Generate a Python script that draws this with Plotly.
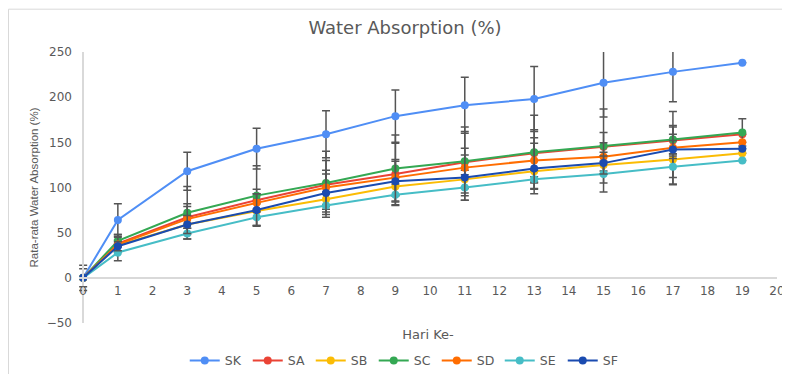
import plotly.graph_objects as go

# ---- data ----
days = [0, 1, 3, 5, 7, 9, 11, 13, 15, 17, 19]

SK = [0, 64, 118, 143, 159, 179, 191, 198, 216, 228, 238]
SA = [0, 38, 67, 86, 103, 115, 128, 138, 145, 152, 159]
SB = [0, 36, 59, 74, 87, 101, 109, 118, 125, 131, 138]
SC = [0, 41, 72, 91, 105, 121, 129, 139, 146, 153, 161]
SD = [0, 37, 65, 83, 100, 111, 122, 130, 134, 144, 150]
SE = [0, 28, 49, 67, 80, 92, 100, 109, 115, 123, 130]
SF = [0, 35, 59, 75, 94, 107, 111, 121, 127, 142, 143]

SK_err = [14, 18, 21, 22.5, 26, 29, 31, 36, 38, 33, None]
SA_err = [None, 10, 12, 12, 27, 34, 34, 26, 16, 15, None]
SB_err = [None, 6, 10, 8, 8, 10, 10, 12, 10, 28, None]
SC_err = [10, 7, 29, 33, 35, 37, 38, 41, 41, 15.5, 15]
SD_err = [None, 8, 17, 10, 19, 20, 21.5, 25, 15.6, 40, None]
SE_err = [None, 9, 6, 9, 13, 12, 14, 10, 20, 12, None]
SF_err = [None, 5, 10, 18, 21, 22, 25, 28, 12, 10, None]

series_names = ["SK", "SA", "SB", "SC", "SD", "SE", "SF"]
series_vals = [SK, SA, SB, SC, SD, SE, SF]
series_errs = [SK_err, SA_err, SB_err, SC_err, SD_err, SE_err, SF_err]
series_colors = ["#4f8ef5", "#ea4335", "#fbbc04", "#34a853", "#ff6d01", "#46bdc6", "#1a4bb0"]

y_ticks = [-50, 0, 50, 100, 150, 200, 250]
x_ticks = list(range(0, 21))

TXT = "#595959"
FONT = "DejaVu Sans"

# layout geometry (figure px; the page adds an 8px body margin)
L, R, T, B = 71, 21, 44, 59
PW, PH = 790 - L - R, 374 - T - B

fig = go.Figure()
for name, vals, errs, color in zip(series_names, series_vals, series_errs, series_colors):
    fig.add_trace(go.Scatter(
        x=days, y=vals, name=name, mode="lines+markers",
        line=dict(color=color, width=2),
        marker=dict(size=8, color=color, line=dict(width=0)),
        error_y=dict(type="data", array=errs, visible=True,
                     color="#555555", thickness=1.5, width=4),
    ))

fig.update_layout(
    template="none",
    width=790, height=374,
    margin=dict(l=L, r=R, t=T, b=B, autoexpand=False),
    paper_bgcolor="white", plot_bgcolor="white",
    title=dict(text="Water Absorption (%)", x=397 / 790, xanchor="center",
               y=1 - 20 / 374, yanchor="middle", automargin=False,
               font=dict(family=FONT, size=18, color=TXT)),
    showlegend=True,
    legend=dict(orientation="h", x=0.4674, xanchor="center", y=-0.1402, yanchor="middle",
                font=dict(family=FONT, size=12.5, color=TXT),
                entrywidth=18, entrywidthmode="pixels",
                bgcolor="rgba(0,0,0,0)", borderwidth=0),
    xaxis=dict(range=[-0.12, 20], tickvals=x_ticks, ticktext=[str(v) for v in x_ticks],
               showgrid=False, zeroline=False, showline=True, automargin=False,
               linecolor="#d9d9d9", linewidth=2, ticks="",
               anchor="free", position=50 / 300,
               tickfont=dict(family=FONT, size=12, color=TXT),
               ticklabelstandoff=2,
               title=dict(text="Hari Ke-", standoff=32,
                          font=dict(family=FONT, size=13, color=TXT))),
    yaxis=dict(range=[-50, 250], tickvals=y_ticks,
               showgrid=False, zeroline=False, showline=True, automargin=False,
               linecolor="#d9d9d9", linewidth=1.5, ticks="",
               anchor="free", position=0.12 / 20.12,
               tickfont=dict(family=FONT, size=12, color=TXT),
               ticklabelstandoff=8,
               title=dict(text="Rata-rata Water Absorption (%)", standoff=5,
                          font=dict(family="Liberation Sans", size=11.5, color=TXT))),
    shapes=[dict(type="rect", xref="paper", yref="paper",
                 x0=(0.5 - L) / PW, x1=(820 - L) / PW,
                 y0=(T + PH - 400) / PH, y1=(T + PH - 1.2) / PH,
                 line=dict(color="#d9d9d9", width=1), fillcolor="rgba(0,0,0,0)",
                 layer="below")],
)

fig.write_html("out.html")
